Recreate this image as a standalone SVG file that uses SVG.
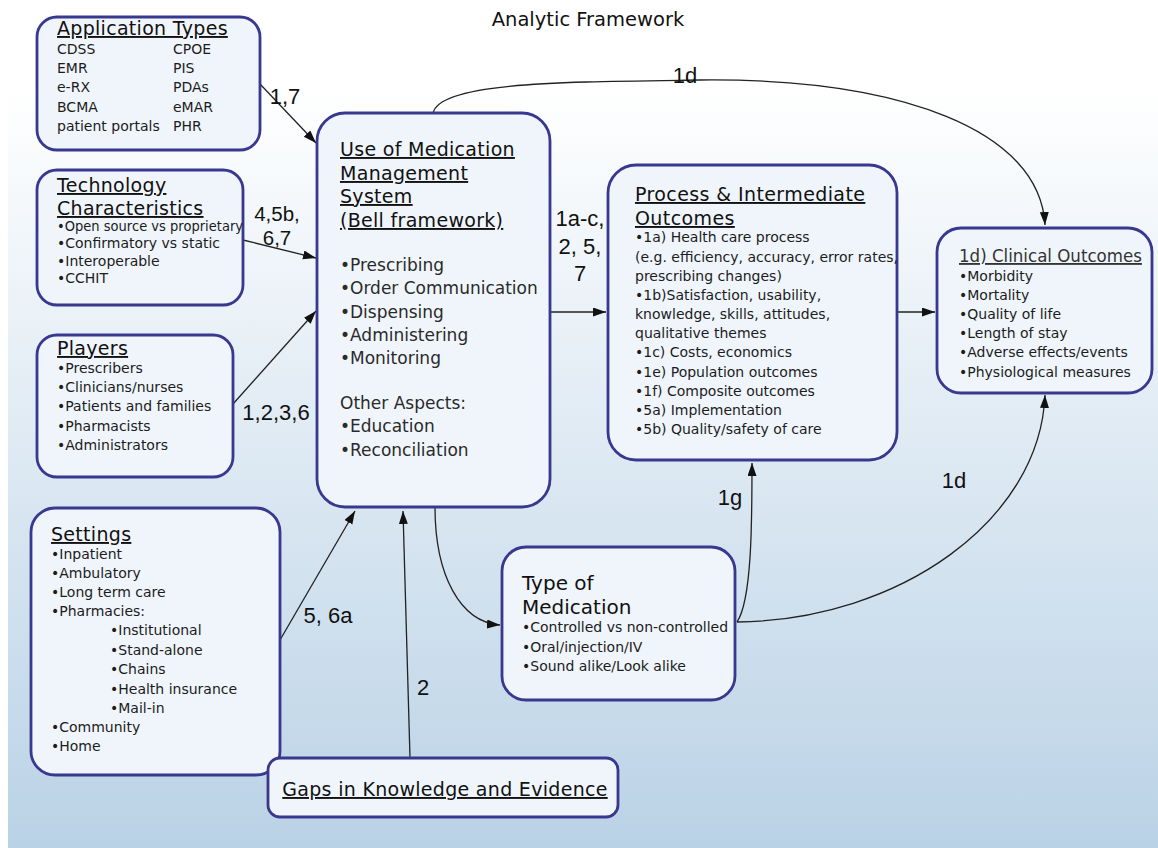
<svg xmlns="http://www.w3.org/2000/svg" width="1158" height="848" viewBox="0 0 1158 848">
<defs>
<linearGradient id="bg" x1="0" y1="0" x2="0" y2="1">
<stop offset="0" stop-color="#ffffff"/>
<stop offset="0.1" stop-color="#ffffff"/>
<stop offset="1" stop-color="#bad2e6"/>
</linearGradient>
<marker id="ah" markerUnits="userSpaceOnUse" markerWidth="14" markerHeight="10" refX="13" refY="4.5" orient="auto">
<path d="M0,0 L13,4.5 L0,9 z" fill="#111"/>
</marker>
<style>
.box{fill:#eff5fb;stroke:#38388f;stroke-width:2.8}
.t{font-family:"DejaVu Sans","Liberation Sans",sans-serif;fill:#111}
.h{font-size:19px;letter-spacing:0.3px;text-decoration:underline}
.s{font-size:14px;fill:#1c1c1c}
.m{font-size:17px;fill:#2a2a2a}
.lbl{font-family:"Liberation Sans",Arial,sans-serif;font-size:22px;fill:#111}
.c{fill:none;stroke:#222;stroke-width:1.3}
</style>
</defs>
<rect x="0" y="0" width="1158" height="848" fill="#ffffff"/>
<rect x="8" y="0" width="1150" height="848" fill="url(#bg)"/>
<text class="t" x="588" y="26" font-size="19.5" text-anchor="middle">Analytic Framework</text>

<g id="connectors">
<line class="c" x1="260" y1="84" x2="316" y2="143" marker-end="url(#ah)"/>
<line class="c" x1="243" y1="240" x2="316" y2="258" marker-end="url(#ah)"/>
<line class="c" x1="233" y1="404" x2="316" y2="311" marker-end="url(#ah)"/>
<line class="c" x1="280" y1="640" x2="355" y2="511" marker-end="url(#ah)"/>
<line class="c" x1="410" y1="758" x2="403" y2="511" marker-end="url(#ah)"/>
<line class="c" x1="550" y1="312" x2="606" y2="312" marker-end="url(#ah)"/>
<line class="c" x1="897" y1="312" x2="935" y2="312" marker-end="url(#ah)"/>
<path class="c" d="M433,113 C440,82 560,82 700,80 C900,78 1040,130 1045,225" marker-end="url(#ah)"/>
<path class="c" d="M435,507 C435,575 460,622 500,625" marker-end="url(#ah)"/>
<path class="c" d="M737,622 C752,600 752,520 752,463" marker-end="url(#ah)"/>
<path class="c" d="M737,622 C900,620 1040,520 1045,395" marker-end="url(#ah)"/>
<text class="lbl" x="285" y="104" text-anchor="middle">1,7</text>
<text class="lbl" x="277" y="221" text-anchor="middle" style="font-size:20.5px">4,5b,</text>
<text class="lbl" x="277" y="245" text-anchor="middle" style="font-size:20.5px">6,7</text>
<text class="lbl" x="276" y="420" text-anchor="middle">1,2,3,6</text>
<text class="lbl" x="328" y="623" text-anchor="middle">5, 6a</text>
<text class="lbl" x="423" y="695" text-anchor="middle">2</text>
<text class="lbl" x="580" y="226" text-anchor="middle">1a-c,</text>
<text class="lbl" x="580" y="254" text-anchor="middle">2, 5,</text>
<text class="lbl" x="580" y="281" text-anchor="middle">7</text>
<text class="lbl" x="685" y="83" text-anchor="middle">1d</text>
<text class="lbl" x="730" y="505" text-anchor="middle">1g</text>
<text class="lbl" x="954" y="488" text-anchor="middle">1d</text>
</g>

<g id="app-types">
<rect class="box" x="37" y="17" width="223" height="133" rx="20"/>
<text class="t h" x="57" y="35">Application Types</text>
<g class="t s">
<text x="57" y="54">CDSS</text><text x="173" y="54">CPOE</text>
<text x="57" y="73">EMR</text><text x="173" y="73">PIS</text>
<text x="57" y="92">e-RX</text><text x="173" y="92">PDAs</text>
<text x="57" y="112">BCMA</text><text x="173" y="112">eMAR</text>
<text x="57" y="131">patient portals</text><text x="173" y="131">PHR</text>
</g>
</g>

<g id="tech">
<rect class="box" x="37" y="170" width="206" height="135" rx="20"/>
<text class="t h" x="57" y="192">Technology</text>
<text class="t h" x="57" y="215">Characteristics</text>
<g class="t s">
<text x="57" y="231" textLength="186" lengthAdjust="spacingAndGlyphs">•Open source  vs proprietary</text>
<text x="57" y="248">•Confirmatory vs static</text>
<text x="57" y="266">•Interoperable</text>
<text x="57" y="283">•CCHIT</text>
</g>
</g>

<g id="players">
<rect class="box" x="37" y="335" width="196" height="142" rx="20"/>
<text class="t h" x="57" y="355">Players</text>
<g class="t s">
<text x="57" y="373">•Prescribers</text>
<text x="57" y="392">•Clinicians/nurses</text>
<text x="57" y="411">•Patients and families</text>
<text x="57" y="431">•Pharmacists</text>
<text x="57" y="450">•Administrators</text>
</g>
</g>

<g id="settings">
<rect class="box" x="31" y="508" width="249" height="267" rx="24"/>
<text class="t h" x="51" y="541">Settings</text>
<g class="t s">
<text x="51" y="559">•Inpatient</text>
<text x="51" y="578">•Ambulatory</text>
<text x="51" y="597">•Long term care</text>
<text x="51" y="616">•Pharmacies:</text>
<text x="110" y="635">•Institutional</text>
<text x="110" y="655">•Stand-alone</text>
<text x="110" y="674">•Chains</text>
<text x="110" y="694">•Health insurance</text>
<text x="110" y="713">•Mail-in</text>
<text x="51" y="732">•Community</text>
<text x="51" y="751">•Home</text>
</g>
</g>

<g id="use">
<rect class="box" x="317" y="113" width="233" height="394" rx="28"/>
<g class="t h">
<text x="340" y="156">Use of Medication</text>
<text x="340" y="180">Management</text>
<text x="340" y="203">System</text>
<text x="340" y="227">(Bell framework)</text>
</g>
<g class="t m">
<text x="340" y="271">•Prescribing</text>
<text x="340" y="294">•Order Communication</text>
<text x="340" y="318">•Dispensing</text>
<text x="340" y="341">•Administering</text>
<text x="340" y="364">•Monitoring</text>
<text x="340" y="409">Other Aspects:</text>
<text x="340" y="432">•Education</text>
<text x="340" y="456">•Reconciliation</text>
</g>
</g>

<g id="process">
<rect class="box" x="608" y="165" width="289" height="295" rx="28"/>
<text class="t h" x="635" y="201" style="letter-spacing:0.4px">Process &amp; Intermediate</text>
<text class="t h" x="635" y="225" style="letter-spacing:0.4px">Outcomes</text>
<g class="t s">
<text x="635" y="242">•1a) Health care process</text>
<text x="635" y="262">(e.g. efficiency, accuracy, error rates,</text>
<text x="635" y="281">prescribing changes)</text>
<text x="635" y="300">•1b)Satisfaction, usability,</text>
<text x="635" y="319">knowledge, skills, attitudes,</text>
<text x="635" y="338">qualitative themes</text>
<text x="635" y="357">•1c) Costs, economics</text>
<text x="635" y="377">•1e) Population outcomes</text>
<text x="635" y="396">•1f) Composite outcomes</text>
<text x="635" y="415">•5a) Implementation</text>
<text x="635" y="434">•5b) Quality/safety of care</text>
</g>
</g>

<g id="clinical">
<rect class="box" x="937" y="228" width="215" height="165" rx="24"/>
<text class="t h" x="959" y="262" style="font-family:'DejaVu Sans Condensed','DejaVu Sans',sans-serif;font-size:18.5px;letter-spacing:0;fill:#333">1d) Clinical Outcomes</text>
<g class="t s">
<text x="959" y="281">•Morbidity</text>
<text x="959" y="300">•Mortality</text>
<text x="959" y="319">•Quality of life</text>
<text x="959" y="338">•Length of stay</text>
<text x="959" y="357">•Adverse effects/events</text>
<text x="959" y="377">•Physiological measures</text>
</g>
</g>

<g id="type-med">
<rect class="box" x="502" y="547" width="233" height="153" rx="24"/>
<text class="t" x="522" y="590" font-size="20">Type of</text>
<text class="t" x="522" y="614" font-size="20">Medication</text>
<g class="t s">
<text x="522" y="632">•Controlled vs non-controlled</text>
<text x="522" y="652">•Oral/injection/IV</text>
<text x="522" y="671">•Sound alike/Look alike</text>
</g>
</g>

<g id="gaps">
<rect class="box" x="268" y="758" width="350" height="59" rx="12"/>
<text class="t h" x="445" y="796" text-anchor="middle">Gaps in Knowledge and Evidence</text>
</g>
</svg>
